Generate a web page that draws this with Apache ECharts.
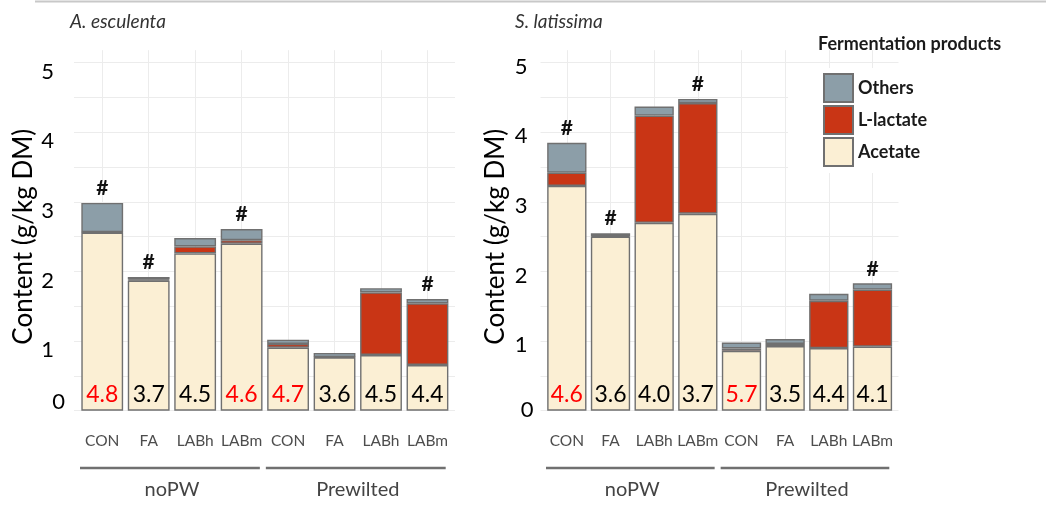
<!DOCTYPE html>
<html>
<head>
<meta charset="utf-8">
<script src="https://cdn.jsdelivr.net/npm/echarts@6/dist/echarts.min.js"></script>
<style>
  html, body { margin: 0; padding: 0; background: #fff; }
  #chart { width: 1046px; height: 511px; }
</style>
</head>
<body>
<div id="chart"></div>
<script>
// Treatments on the x axis, two wilting groups of four
const categories = ['CON', 'FA', 'LABh', 'LABm', 'CON', 'FA', 'LABh', 'LABm'];
const groups = ['noPW', 'Prewilted'];
const legendOrder = ['Others', 'L-lactate', 'Acetate'];

// A. esculenta: fermentation products (g/kg DM), pH and significance flags
const escAcetate = [2.56, 1.87, 2.26, 2.40, 0.905, 0.765, 0.80, 0.657];
const escLactate = [0.005, 0.015, 0.10, 0.05, 0.055, 0.005, 0.90, 0.886];
const escOthers  = [0.42, 0.035, 0.12, 0.16, 0.06, 0.06, 0.06, 0.062];
const escPH      = ['4.8', '3.7', '4.5', '4.6', '4.7', '3.6', '4.5', '4.4'];
const escPHHigh  = [true, false, false, true, true, false, false, false];
const escHash    = [true, true, false, true, false, false, false, true];

// S. latissima
const latAcetate = [3.23, 2.50, 2.70, 2.83, 0.86, 0.93, 0.90, 0.92];
const latLactate = [0.19, 0.01, 1.54, 1.59, 0.035, 0.03, 0.68, 0.82];
const latOthers  = [0.43, 0.04, 0.13, 0.06, 0.085, 0.07, 0.10, 0.09];
const latPH      = ['4.6', '3.6', '4.0', '3.7', '5.7', '3.5', '4.4', '4.1'];
const latPHHigh  = [true, false, false, false, true, false, false, false];
const latHash    = [true, true, false, true, false, false, false, true];

const FONT = 'Lato, "Open Sans", sans-serif';
const COLORS = { 'Others': '#8c9ea8', 'L-lactate': '#c93515', 'Acetate': '#fbefd4' };
const BORDER = { borderColor: '#707070', borderWidth: 1.4 };
const GRID_LINE = { color: '#ececec', width: 1 };

// panel layout: background panel (grid lines) and bar band area
const panels = [
  { title: 'A. esculenta', titleLeft: 70,
    bg: { left: 74, width: 381, top: 62.7, height: 348 },
    bars: { left: 79, width: 371.7, top: 50.2, height: 360.5 },
    acetate: escAcetate, lactate: escLactate, others: escOthers,
    ph: escPH, phHigh: escPHHigh, hash: escHash,
    labelMargin: 9, nPad: [18, 11, 0, 0], zPad: [0, 0, 18, 0], nameGap: 37 },
  { title: 'S. latissima', titleLeft: 515,
    bg: { left: 540.5, width: 358, top: 62.7, height: 348 },
    bars: { left: 545, width: 349.3, top: 50.2, height: 360.5 },
    acetate: latAcetate, lactate: latLactate, others: latOthers,
    ph: latPH, phHigh: latPHHigh, hash: latHash,
    labelMargin: 7, nPad: [8, 6, 0, 0], zPad: [0, 0, 2, 0], nameGap: 32 }
];

const grids = [], xAxes = [], yAxes = [], series = [], titles = [];

panels.forEach((p, k) => {
  const bgIdx = 2 * k, barIdx = 2 * k + 1;
  grids.push(Object.assign({ containLabel: false }, p.bg));
  grids.push(Object.assign({ containLabel: false }, p.bars));

  // background panel: horizontal grid lines and y labels
  xAxes.push({ gridIndex: bgIdx, type: 'value', min: 0, max: 1, show: false });
  yAxes.push({
    gridIndex: bgIdx, type: 'value', min: 0, max: 5, interval: 1,
    axisLine: { show: false }, axisTick: { show: false },
    splitLine: { show: true, lineStyle: GRID_LINE },
    minorTick: { show: false, splitNumber: 2 },
    minorSplitLine: { show: true, lineStyle: GRID_LINE },
    axisLabel: {
      margin: p.labelMargin, fontSize: 22, color: '#000', fontFamily: FONT,
      formatter: v => v === 0 ? '{z|0}' : '{n|' + v + '}',
      rich: {
        n: { fontSize: 22, color: '#000', fontFamily: FONT, padding: p.nPad },
        z: { fontSize: 22, color: '#000', fontFamily: FONT, padding: p.zPad }
      }
    },
    name: 'Content (g/kg DM)', nameLocation: 'middle', nameGap: p.nameGap,
    nameTextStyle: { fontSize: 26, color: '#000', fontFamily: FONT }
  });

  // bar band: treatments on a category axis
  xAxes.push({
    gridIndex: barIdx, type: 'category', data: categories,
    axisLine: { show: false }, axisTick: { show: false },
    splitLine: { show: true, alignWithLabel: true, lineStyle: GRID_LINE },
    axisLabel: { margin: 22, fontSize: 15.5, color: '#4d4d4d', fontFamily: FONT, interval: 0 }
  });
  yAxes.push({ gridIndex: barIdx, type: 'value', min: 0, max: 5.18, show: false,
    splitLine: { show: false } });

  const stack = 'panel' + k;
  series.push({
    name: 'Acetate', type: 'bar', stack, xAxisIndex: barIdx, yAxisIndex: barIdx,
    barWidth: '90%', itemStyle: Object.assign({ color: COLORS['Acetate'] }, BORDER),
    data: p.acetate.map((v, i) => ({
      value: v,
      label: { color: p.phHigh[i] ? '#ff0000' : '#000' }
    })),
    label: {
      show: true, position: 'insideBottom', distance: 5,
      fontSize: 23, fontFamily: FONT,
      formatter: prm => p.ph[prm.dataIndex]
    },
    z: 2
  });
  series.push({
    name: 'L-lactate', type: 'bar', stack, xAxisIndex: barIdx, yAxisIndex: barIdx,
    barWidth: '90%', itemStyle: Object.assign({ color: COLORS['L-lactate'] }, BORDER),
    data: p.lactate, z: 2
  });
  series.push({
    name: 'Others', type: 'bar', stack, xAxisIndex: barIdx, yAxisIndex: barIdx,
    barWidth: '90%', itemStyle: Object.assign({ color: COLORS['Others'] }, BORDER),
    data: p.others,
    label: {
      show: true, position: 'top', distance: 4,
      fontSize: 21, fontWeight: 'bold', color: '#111', fontFamily: FONT,
      formatter: prm => p.hash[prm.dataIndex] ? '#' : ''
    },
    z: 2
  });

  titles.push({
    text: p.title, left: p.titleLeft, top: 12, padding: 0,
    textStyle: { fontSize: 19, fontStyle: 'italic', fontWeight: 'normal', color: '#333', fontFamily: FONT }
  });
});

titles.push({
  text: 'Fermentation products', left: 818, top: 35, padding: 0,
  textStyle: { fontSize: 18, fontWeight: 'bold', color: '#1a1a1a', fontFamily: FONT }
});

const chart = echarts.init(document.getElementById('chart'), null, { renderer: 'canvas' });
chart.setOption({
  animation: false,
  backgroundColor: '#fff',
  title: titles,
  legend: {
    data: legendOrder, orient: 'vertical', left: 788, top: 68,
    padding: [5, 14, 6, 35], backgroundColor: '#fff',
    itemWidth: 29, itemHeight: 28, itemGap: 2, icon: 'rect', selectedMode: false,
    textStyle: { fontSize: 18, fontWeight: 'bold', color: '#1a1a1a', fontFamily: FONT }
  },
  grid: grids, xAxis: xAxes, yAxis: yAxes, series
});

// group brackets under the treatment labels, placed from the category scale
const graphics = [{
  type: 'line', shape: { x1: 35, y1: 1.5, x2: 1046, y2: 1.5 },
  style: { stroke: '#c8c8c8', lineWidth: 2 }, silent: true
}];
panels.forEach((p, k) => {
  const ax = { xAxisIndex: 2 * k + 1 };
  const c0 = chart.convertToPixel(ax, 0);
  const band = chart.convertToPixel(ax, 1) - c0;
  groups.forEach((g, gi) => {
    const start = c0 - band / 2 + gi * 4 * band;
    const end = start + 4 * band;
    graphics.push({
      type: 'line', shape: { x1: start + 1, y1: 468, x2: end - 5, y2: 468 },
      style: { stroke: '#707070', lineWidth: 2.5 }, silent: true
    });
    graphics.push({
      type: 'text', x: (start + end) / 2, y: 490,
      style: { text: g, fontSize: 20, fill: '#444', fontFamily: FONT, align: 'center', verticalAlign: 'middle' },
      silent: true
    });
  });
});
chart.setOption({ graphic: graphics });
</script>
</body>
</html>
